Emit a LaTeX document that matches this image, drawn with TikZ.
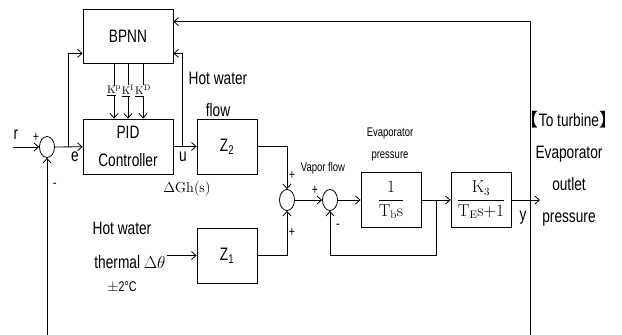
\documentclass[tikz,border=0pt]{standalone}
\usepackage[no-math]{fontspec}
\setmainfont{Liberation Sans}[FakeStretch=0.76]
\newfontfamily\cjk{Noto Sans CJK SC}
\usetikzlibrary{arrows.meta,positioning,calc,shapes.geometric}

\begin{document}
\begin{tikzpicture}[x=1pt,y=-1pt,line width=0.8pt,
  >={Straight Barb[length=4.5pt,width=8pt]},
  block/.style={draw,minimum width=60pt,minimum height=55pt,inner sep=0pt,
    font=\fontsize{18}{20}\selectfont},
  sumnode/.style={draw,ellipse,minimum width=15pt,minimum height=21pt,inner sep=0pt},
  biglbl/.style={font=\fontsize{18}{20}\selectfont,inner sep=0pt},
  smalllbl/.style={font=\fontsize{12.5}{14}\selectfont,inner sep=0pt},
  signlbl/.style={font=\fontsize{14}{14}\selectfont,inner sep=0pt}]
  \useasboundingbox (0,0) rectangle (622,335);

  % Neural network and PID controller
  \node[block,minimum width=90pt,minimum height=54pt] (bpnn) at (128,36) {BPNN};
  \node[block,minimum width=90pt,align=center,
    font=\fontsize{18}{28}\selectfont] (pid) at (128,146.5) {PID\\Controller};
  \node[sumnode] (s1) at (47,147) {};

  % Plant blocks
  \node[block] (z2) at (227,146.5) {Z\textsubscript{2}};
  \node[block] (z1) at (227,255.5) {Z\textsubscript{1}};
  \node[sumnode] (s2) at (287,200) {};
  \node[sumnode] (s3) at (330,200) {};
  \node[block,font=\fontsize{16}{19}\selectfont] (evap) at (391,200)
    {$\displaystyle\frac{\mathrm{1}}{\mathrm{T_b s}}$};
  \node[block,font=\fontsize{16}{19}\selectfont] (turb) at (481,200)
    {$\displaystyle\frac{\mathrm{K_3}}{\mathrm{T_E s{+}1}}$};

  % Free ends and branch points
  \coordinate (rin) at (13,147);
  \coordinate (ebr) at (68,147);
  \coordinate (ubr) at (182,147);
  \coordinate (tin) at (167,255.5);
  \coordinate (fb) at (436,200);
  \coordinate (fbl) at (436,255);
  \coordinate (ybr) at (530,200);
  \coordinate (yout) at (540,200);
  \coordinate (ybot) at (530,345);

  % Main path
  \draw[->] (rin) -- (s1);
  \draw[->] (s1) -- (pid);
  \draw[->] (pid) -- (z2);
  \draw[->] (ebr) |- ([yshift=10pt]bpnn.south west);
  \draw[->] (ubr) |- ([yshift=10pt]bpnn.south east);
  \foreach \dx/\k in {-14/p,0/I,15/D}
    \draw[->] ([xshift=\dx pt]bpnn.south) -- ([xshift=\dx pt]pid.north)
      node[pos=0.5,fill=white,inner sep=0.5pt,font=\fontsize{11}{12}\selectfont]
      {$\underline{\mathrm{K}}^{\mathrm{\k}}$};
  \draw[->] (z2) -| (s2);
  \draw[->] (z1) -| (s2);
  \draw[->] (tin) -- (z1);
  \draw[->] (s2) -- (s3);
  \draw[->] (s3) -- (evap);
  \draw[->] (evap) -- (turb);
  \draw[->] (fb) -- (fbl) -| (s3);
  \draw[->] (turb) -- (yout);

  % Feedback of the outlet pressure
  \draw[->] (ybr) |- ([yshift=-13pt]bpnn.north east);
  \draw[->] (ybr) -- (ybot) -| (s1);

  % Labels
  \node[biglbl] (rlbl) at (16,135) {r};
  \node[signlbl] (p1) at (36,137) {+};
  \node[signlbl] (m1) at (55,185) {-};
  \node[biglbl] (elbl) at (75,157) {e};
  \node[biglbl] (ulbl) at (183,157) {u};
  \node[inner sep=0pt,font=\fontsize{15}{18}\selectfont] (dgh) at (187,189)
    {$\Delta\mathrm{Gh(s)}$};
  \node[biglbl,align=center,font=\fontsize{18}{32}\selectfont] (hwf) at (218,94)
    {Hot water\\flow};
  \node[signlbl] (p2) at (292,175) {+};
  \node[signlbl] (p3) at (292,232) {+};
  \node[smalllbl] (vap) at (323,168) {Vapor flow};
  \node[signlbl] (p4) at (315,190) {+};
  \node[signlbl] (m2) at (338,226) {-};
  \node[smalllbl,align=center,font=\fontsize{12.5}{22}\selectfont] (evlbl) at (390,144)
    {Evaporator\\pressure};
  \node[biglbl] (ylbl) at (523,218) {y};
  \node[biglbl] (hw1) at (122,228) {Hot water};
  \node[biglbl] (hw2) at (130,262) {thermal $\Delta\mathrm{\theta}$};
  \node[inner sep=0pt,font=\fontsize{14}{16}\selectfont] (hw3) at (122,287) {$\pm$2\textdegree C};
  \node[biglbl,align=center,font=\fontsize{18}{32}\selectfont] (out) at (569,169)
    {{\cjk 【}To turbine{\cjk 】}\\Evaporator\\outlet\\pressure};
\end{tikzpicture}
\end{document}
